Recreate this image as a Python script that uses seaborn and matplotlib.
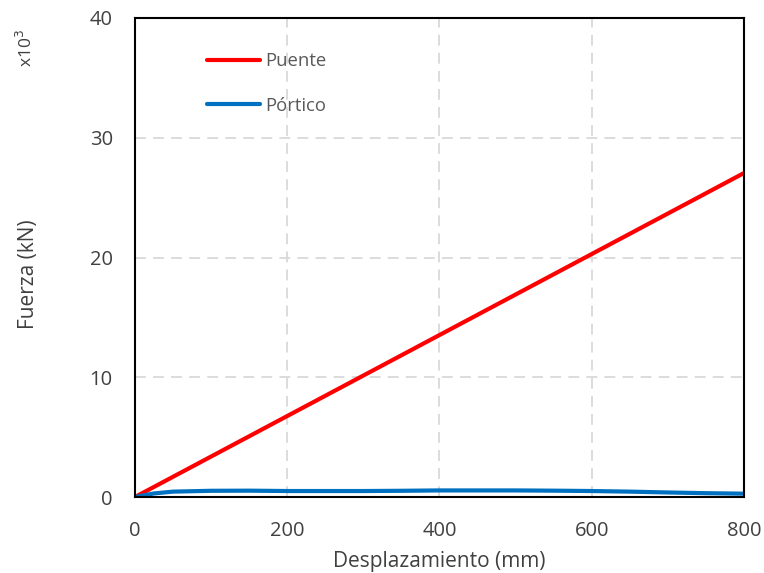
import matplotlib
matplotlib.use("Agg")
import matplotlib.pyplot as plt
import seaborn as sns
import pandas as pd

# Data (forces in x10^3 kN)
desp_puente = [0, 800]
fuerza_puente = [0, 27.05]

desp_portico = [0, 25, 50, 100, 150, 200, 250, 300, 350, 400, 450, 500, 550, 600, 650, 700, 750, 800]
fuerza_portico = [0, 0.3, 0.45, 0.52, 0.53, 0.5, 0.5, 0.5, 0.52, 0.55, 0.55, 0.55, 0.53, 0.5, 0.45, 0.38, 0.32, 0.28]

xticks = [0, 200, 400, 600, 800]
yticks = [0, 10, 20, 30, 40]

df = pd.concat([
    pd.DataFrame({"x": desp_puente, "y": fuerza_puente, "serie": "Puente"}),
    pd.DataFrame({"x": desp_portico, "y": fuerza_portico, "serie": "Pórtico"}),
])

sns.set_style("white")
plt.rcParams['font.family'] = ['Open Sans', 'DejaVu Sans']

fig = plt.figure(figsize=(7.64, 5.73), dpi=100)
ax = fig.add_axes([0.1767, 0.1326, 0.797, 0.836])

sns.lineplot(data=df, x="x", y="y", hue="serie", palette={"Puente": "#FF0000", "Pórtico": "#0070C0"},
             linewidth=3, ax=ax, sort=False, estimator=None)

ax.set_xlim(0, 800)
ax.set_ylim(0, 40)
ax.set_xticks(xticks)
ax.set_yticks(yticks)
ax.tick_params(axis='both', length=0, labelsize=14.5, colors="#404040")
ax.tick_params(axis='x', pad=17)
ax.tick_params(axis='y', pad=16)
ax.grid(True, color="#D9D9D9", linestyle=(0, (6, 4)), linewidth=1.3)
ax.set_axisbelow(True)
for s in ax.spines.values():
    s.set_color("black")
    s.set_linewidth(1.5)
ax.set_xlabel("Desplazamiento (mm)", fontsize=15, color="#404040")
ax.set_ylabel("Fuerza (kN)", fontsize=15, color="#404040")
ax.xaxis.set_label_coords(0.5, -0.113)
ax.yaxis.set_label_coords(-0.157, 0.466)

fig.text(0.034, 0.916, "x10$^3$", rotation=90, fontsize=12.5, color="#404040", ha="center", va="center")

leg = ax.legend(loc="upper left", bbox_to_anchor=(0.118, 0.929), frameon=False, fontsize=13.3,
                handlelength=2.87, labelspacing=1.45, handletextpad=0.27, borderpad=0, borderaxespad=0)
for t in leg.get_texts():
    t.set_color("#595959")
for l in leg.get_lines():
    l.set_linewidth(3)

fig.savefig("out.png", dpi=100)
